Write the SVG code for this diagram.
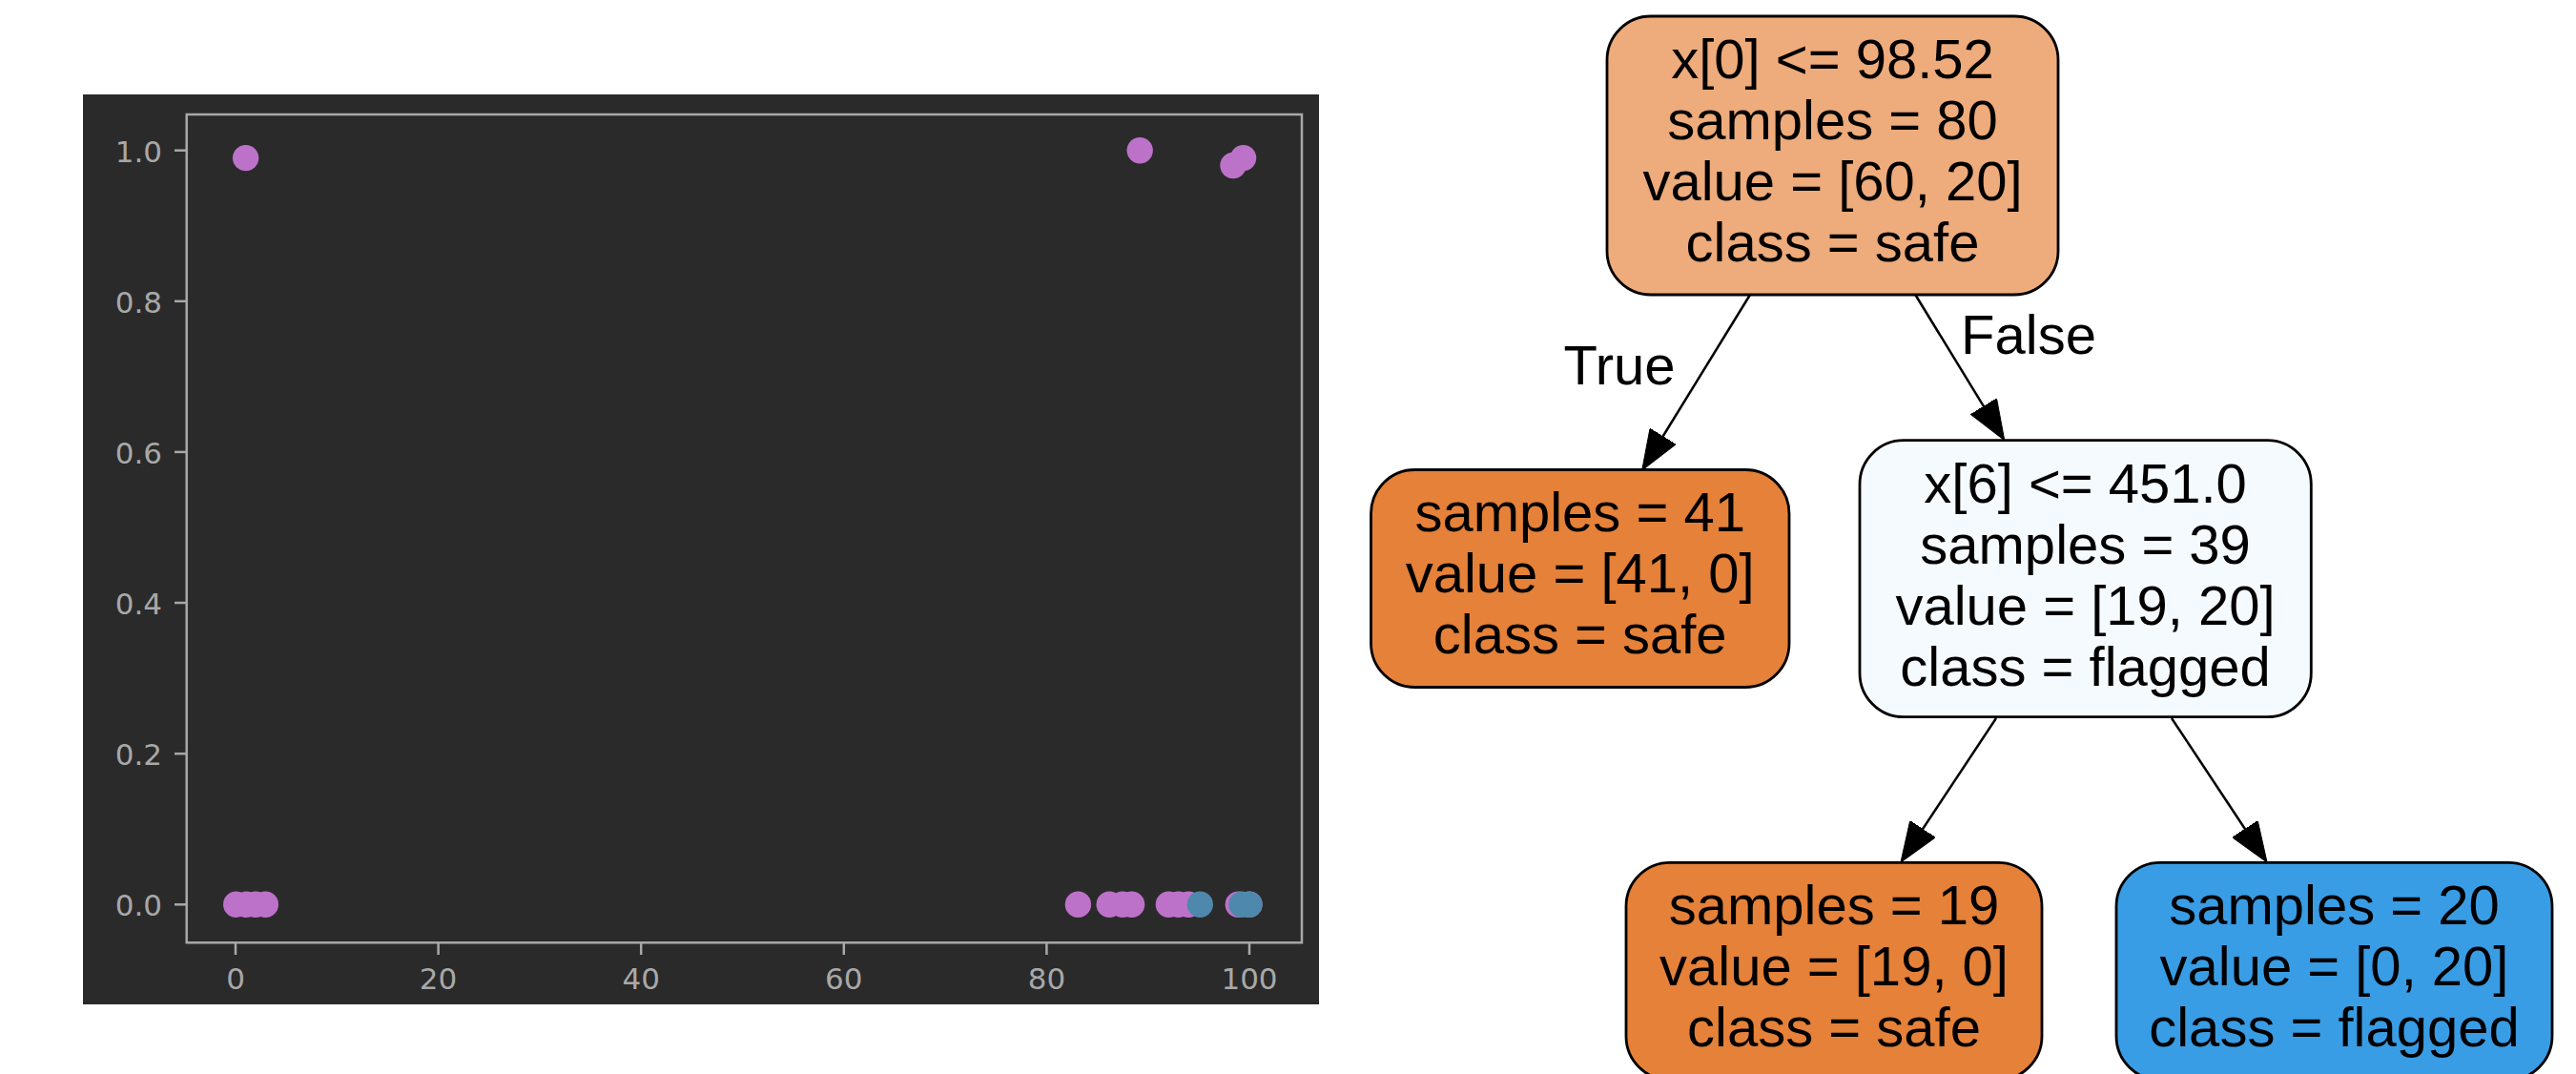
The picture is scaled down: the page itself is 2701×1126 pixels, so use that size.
<svg xmlns="http://www.w3.org/2000/svg" width="2701" height="1126" viewBox="0 0 2701 1126">
<style>
.tick{font-family:"DejaVu Sans",sans-serif;font-size:31px;fill:#a8a8a8}
.spine{fill:none;stroke:#a8a8a8;stroke-width:2.5}
.tk{stroke:#a8a8a8;stroke-width:2.5}
.pk{fill:#bd72c9}
.bl{fill:#4f88ad}
.node rect{stroke:#000;stroke-width:2.8}
.node text,.elabel{font-family:"Liberation Sans",Arial,sans-serif;font-size:58px;fill:#000;text-anchor:middle}
.edge{fill:none;stroke:#000;stroke-width:2.5;marker-end:url(#arr)}
</style>
<defs>
<marker id="arr" viewBox="0 0 42 32" refX="22" refY="16" markerWidth="42" markerHeight="32" markerUnits="userSpaceOnUse" orient="auto">
<path d="M0,0 L42,16 L0,32 z" fill="#000" stroke="#000" stroke-width="1"/>
</marker>
</defs>
<rect x="0" y="0" width="2701" height="1126" fill="#fff"/>

<g id="scatter-plot">
<rect x="87" y="99" width="1296" height="954" fill="#2a2a2a"/>
<rect class="spine" x="195.7" y="120" width="1169.3" height="868.3"/>
<g id="y-ticks">
<line class="tk" x1="183" y1="157.7" x2="195.7" y2="157.7"/>
<line class="tk" x1="183" y1="315.8" x2="195.7" y2="315.8"/>
<line class="tk" x1="183" y1="473.9" x2="195.7" y2="473.9"/>
<line class="tk" x1="183" y1="632" x2="195.7" y2="632"/>
<line class="tk" x1="183" y1="790.2" x2="195.7" y2="790.2"/>
<line class="tk" x1="183" y1="948.3" x2="195.7" y2="948.3"/>
<text class="tick" x="170" y="169.7" text-anchor="end">1.0</text>
<text class="tick" x="170" y="327.8" text-anchor="end">0.8</text>
<text class="tick" x="170" y="485.9" text-anchor="end">0.6</text>
<text class="tick" x="170" y="644" text-anchor="end">0.4</text>
<text class="tick" x="170" y="802.2" text-anchor="end">0.2</text>
<text class="tick" x="170" y="960.3" text-anchor="end">0.0</text>
</g>
<g id="x-ticks">
<line class="tk" x1="247" y1="988.3" x2="247" y2="1001"/>
<line class="tk" x1="459.6" y1="988.3" x2="459.6" y2="1001"/>
<line class="tk" x1="672.2" y1="988.3" x2="672.2" y2="1001"/>
<line class="tk" x1="884.8" y1="988.3" x2="884.8" y2="1001"/>
<line class="tk" x1="1097.4" y1="988.3" x2="1097.4" y2="1001"/>
<line class="tk" x1="1310" y1="988.3" x2="1310" y2="1001"/>
<text class="tick" x="247" y="1037" text-anchor="middle">0</text>
<text class="tick" x="459.6" y="1037" text-anchor="middle">20</text>
<text class="tick" x="672.2" y="1037" text-anchor="middle">40</text>
<text class="tick" x="884.8" y="1037" text-anchor="middle">60</text>
<text class="tick" x="1097.4" y="1037" text-anchor="middle">80</text>
<text class="tick" x="1310" y="1037" text-anchor="middle">100</text>
</g>
<g id="points">
<circle class="pk" cx="257.6" cy="165.6" r="13.7"/>
<circle class="pk" cx="1195.2" cy="157.7" r="13.7"/>
<circle class="pk" cx="1293" cy="173.5" r="13.7"/>
<circle class="pk" cx="1303.6" cy="165.6" r="13.7"/>
<circle class="pk" cx="247.7" cy="948.3" r="13.7"/>
<circle class="pk" cx="258" cy="948.3" r="13.7"/>
<circle class="pk" cx="268" cy="948.3" r="13.7"/>
<circle class="pk" cx="278.3" cy="948.3" r="13.7"/>
<circle class="pk" cx="1130.4" cy="948.3" r="13.7"/>
<circle class="pk" cx="1163.2" cy="948.3" r="13.7"/>
<circle class="pk" cx="1177" cy="948.3" r="13.7"/>
<circle class="pk" cx="1186.6" cy="948.3" r="13.7"/>
<circle class="pk" cx="1225.4" cy="948.3" r="13.7"/>
<circle class="pk" cx="1235.6" cy="948.3" r="13.7"/>
<circle class="pk" cx="1246.2" cy="948.3" r="13.7"/>
<circle class="pk" cx="1298.3" cy="948.3" r="13.7"/>
<circle class="pk" cx="1310" cy="948.3" r="13.7"/>
<circle class="bl" cx="1258.3" cy="948.3" r="13.7"/>
<circle class="bl" cx="1302" cy="948.3" r="13.7"/>
<circle class="bl" cx="1310" cy="948.3" r="13.7"/>
</g>
</g>

<g id="connectors">
<path class="edge" d="M1835,309 L1732.2,476"/>
<path class="edge" d="M2008.3,309 L2091.3,444.6"/>
<path class="edge" d="M2093,753 L2004,887.3"/>
<path class="edge" d="M2277,753 L2366,887.3"/>
<text class="elabel" x="1698" y="403">True</text>
<text class="elabel" x="2127" y="371">False</text>
</g>

<g id="node-root" class="node">
<rect x="1685" y="17" width="473" height="292" rx="46" fill="#eeab7b"/>
<text x="1921.5" y="82">x[0] &lt;= 98.52</text>
<text x="1921.5" y="146">samples = 80</text>
<text x="1921.5" y="210">value = [60, 20]</text>
<text x="1921.5" y="274">class = safe</text>
</g>

<g id="node-left" class="node">
<rect x="1437.5" y="492.5" width="438.5" height="228" rx="46" fill="#e58139"/>
<text x="1656.7" y="557">samples = 41</text>
<text x="1656.7" y="621">value = [41, 0]</text>
<text x="1656.7" y="685">class = safe</text>
</g>

<g id="node-mid" class="node">
<rect x="1950" y="461.7" width="473.3" height="290" rx="46" fill="#f5fafe"/>
<text x="2186.6" y="527">x[6] &lt;= 451.0</text>
<text x="2186.6" y="591">samples = 39</text>
<text x="2186.6" y="655">value = [19, 20]</text>
<text x="2186.6" y="719">class = flagged</text>
</g>

<g id="node-bl" class="node">
<rect x="1705" y="904.3" width="436" height="228" rx="46" fill="#e58139"/>
<text x="1923" y="969">samples = 19</text>
<text x="1923" y="1033">value = [19, 0]</text>
<text x="1923" y="1097">class = safe</text>
</g>

<g id="node-br" class="node">
<rect x="2219" y="904.3" width="457" height="228" rx="46" fill="#399de5"/>
<text x="2447.5" y="969">samples = 20</text>
<text x="2447.5" y="1033">value = [0, 20]</text>
<text x="2447.5" y="1097">class = flagged</text>
</g>
</svg>
